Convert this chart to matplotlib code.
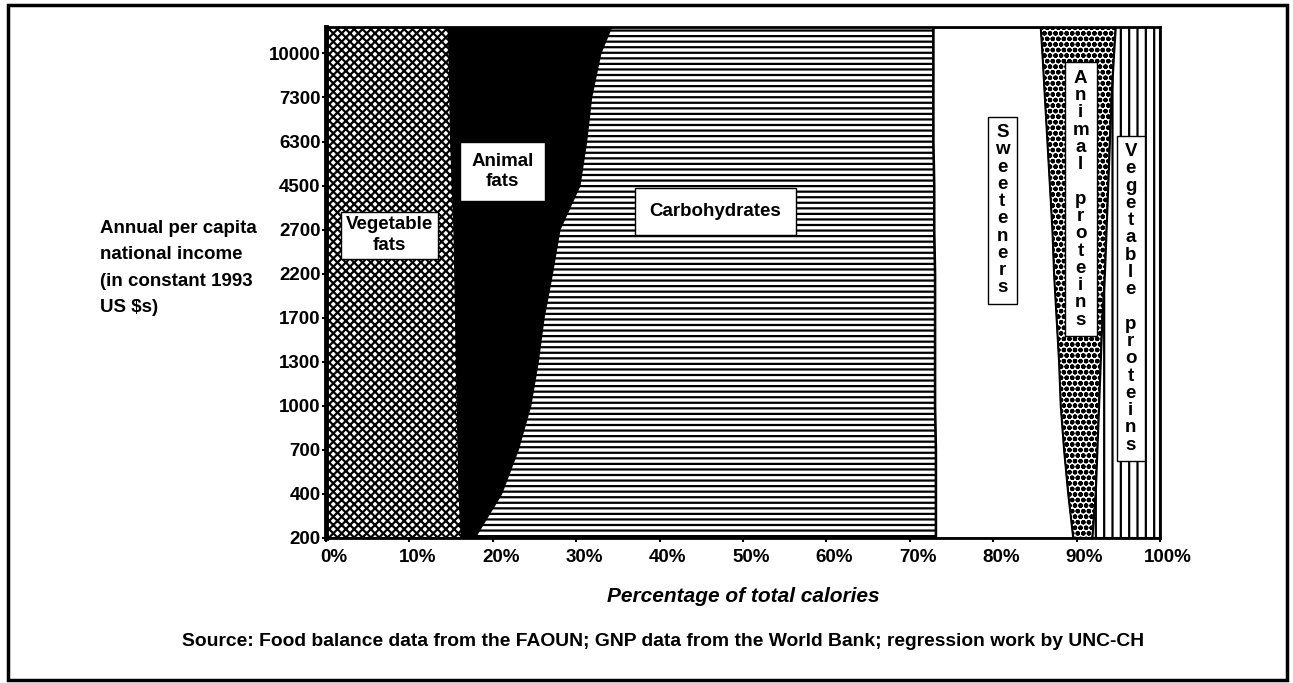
import numpy as np
import matplotlib
matplotlib.use('Agg')
import matplotlib.pyplot as plt
from matplotlib.patches import Rectangle
from matplotlib.transforms import ScaledTranslation

plt.rcParams['font.family'] = ['Liberation Sans', 'DejaVu Sans']
plt.rcParams['font.weight'] = 'bold'
plt.rcParams['font.size'] = 13.5

#-------------
# Data, % of total calories per income level
# last row is the top edge of the chart, above the 10000 level
#-------------
income_labels = ['200', '400', '700', '1000', '1300', '1700',
                 '2200', '2700', '4500', '6300', '7300', '10000']
top_edge = 11.6

veg_fats    = [16.3, 16.0, 15.9, 15.8, 15.7, 15.6, 15.5, 15.4, 15.2, 15.0, 14.9, 14.8, 14.7]
animal_fats = [1.5, 5.0, 7.1, 8.7, 9.7, 10.5, 11.6, 12.6, 15.2, 16.2, 16.9, 18.1, 19.5]
carbs       = [55.3, 52.1, 50.1, 48.5, 47.6, 46.9, 45.9, 44.9, 42.5, 41.6, 41.0, 39.9, 38.6]
sweeteners  = [16.5, 15.9, 15.4, 15.1, 14.9, 14.6, 14.3, 14.2, 13.9, 13.7, 13.4, 13.1, 12.9]
animal_prot = [2.3, 3.3, 4.0, 4.6, 5.0, 5.5, 6.1, 6.5, 7.0, 7.5, 8.0, 8.6, 9.0]
veg_prot    = [8.1, 7.7, 7.5, 7.3, 7.1, 6.9, 6.6, 6.4, 6.2, 6.0, 5.8, 5.5, 5.3]

series = [veg_fats, animal_fats, carbs, sweeteners, animal_prot, veg_prot]
styles = [dict(facecolor='white', hatch='xxxx'),
          dict(facecolor='black', hatch=None),
          dict(facecolor='white', hatch='---'),
          dict(facecolor='white', hatch=None),
          dict(facecolor='white', hatch='ooo'),
          dict(facecolor='white', hatch='||')]

#---------
# Plotting
#---------
fig = plt.figure(figsize=(12.93, 6.83), dpi=100)
ax = fig.add_axes([326/1293, 1-538/683, (1160-326)/1293, (538-27)/683])

y = np.append(np.arange(len(income_labels)), top_edge)
cum = np.cumsum(np.array(series), axis=0)
left = np.zeros(len(y))
for right, st in zip(cum, styles):
    poly = ax.fill_betweenx(y, left, right, facecolor=st['facecolor'],
                            edgecolor='black', hatch=st['hatch'], linewidth=1.5)
    if hasattr(poly, 'set_hatch_linewidth'):
        poly.set_hatch_linewidth(1.6)
    left = right

ax.set_xlim(0, 100)
ax.set_ylim(0, top_edge)
ax.set_xticks(np.arange(0, 101, 10))
ax.set_xticklabels(['%d%%' % v for v in range(0, 101, 10)])
ax.set_yticks(np.arange(len(income_labels)))
ax.set_yticklabels(income_labels)
ax.tick_params(axis='both', direction='out', length=3, width=1.5, labelsize=13.5)
ax.tick_params(axis='y', pad=1)
ax.tick_params(axis='x', pad=5)
for lab in ax.get_xticklabels():
    lab.set_transform(lab.get_transform() + ScaledTranslation(0.08, 0, fig.dpi_scale_trans))
for side in ['top', 'right', 'bottom']:
    ax.spines[side].set_linewidth(2)
ax.spines['left'].set_linewidth(3.5)

# labels in boxes
box = dict(boxstyle='square,pad=0.3', facecolor='white', edgecolor='black', linewidth=1)
ax.text(7.6, 6.87, 'Vegetable\nfats', ha='center', va='center', linespacing=1.3,
        bbox=dict(box, boxstyle='square,pad=0.25'))
ax.text(21.2, 8.32, 'Animal\nfats', ha='center', va='center', linespacing=1.2,
        bbox=dict(box, boxstyle='square,pad=0.6'))
ax.text(46.7, 7.41, 'Carbohydrates', ha='center', va='center',
        bbox=dict(box, boxstyle='square,pad=0.8'))

def stacked(s):
    return '\n'.join(s)

ax.text(81.1, 7.44, stacked('Sweeteners'), ha='center', va='center',
        linespacing=1.02, bbox=dict(box, boxstyle='square,pad=0.4'))
ax.text(90.5, 7.69, stacked('Animal proteins'), ha='center', va='center',
        linespacing=1.02, bbox=dict(box, boxstyle='square,pad=0.4'))
ax.text(96.5, 5.44, stacked('Vegetable proteins'), ha='center', va='center',
        linespacing=1.02, bbox=dict(box, boxstyle='square,pad=0.4'))

fig.text(100/1293, 1-220/683, 'Annual per capita\nnational income\n(in constant 1993\nUS $s)',
         ha='left', va='top', fontsize=13.5, linespacing=1.72)
fig.text(743/1293, 1-597/683, 'Percentage of total calories', ha='center', va='center',
         fontsize=15, style='italic')
fig.text(663/1293, 1-642/683,
         'Source: Food balance data from the FAOUN; GNP data from the World Bank; regression work by UNC-CH',
         ha='center', va='center', fontsize=13.9)

# outer frame
fig.patches.append(Rectangle((8/1293, 3/683), 1279/1293, 675/683, transform=fig.transFigure,
                             fill=False, edgecolor='black', linewidth=2.5))

fig.savefig('out.png', dpi=100)
